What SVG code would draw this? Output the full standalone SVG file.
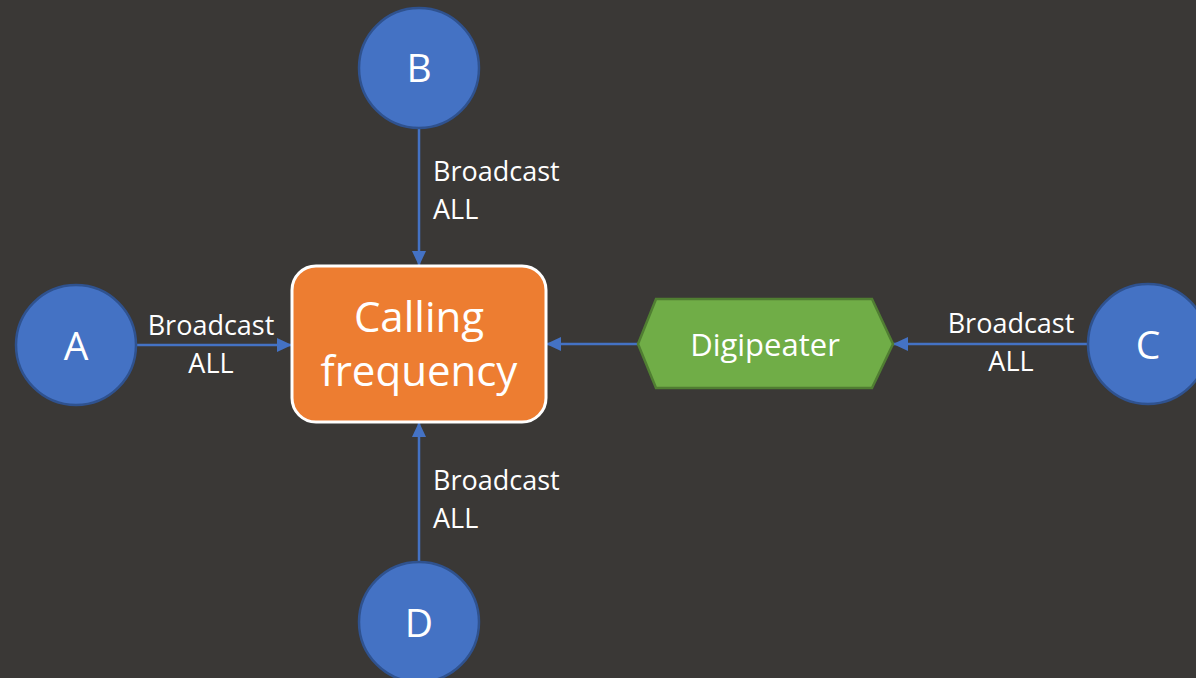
<svg xmlns="http://www.w3.org/2000/svg" width="1196" height="678" viewBox="0 0 1196 678">
<defs>
<style>
.bg{fill:#3a3836}
.node{fill:#4472c4;stroke:#2f528f;stroke-width:2.5}
.lbl{font-family:"Open Sans","Liberation Sans",sans-serif;fill:#ffffff}
.nl{font-size:39px;text-anchor:middle}
.el{font-size:27px}
.conn{stroke:#4472c4;stroke-width:2.5;fill:none;marker-end:url(#arr)}
</style>
<marker id="arr" markerUnits="userSpaceOnUse" markerWidth="16" markerHeight="16" viewBox="0 0 16 16" refX="15" refY="8" orient="auto">
<path d="M0,1 L15,8 L0,15 Z" fill="#4472c4"/>
</marker>
</defs>
<rect class="bg" x="0" y="0" width="1196" height="678"/>
<g id="connectors">
<line class="conn" x1="136" y1="345" x2="292" y2="345"/>
<line class="conn" x1="419" y1="128" x2="419" y2="266"/>
<line class="conn" x1="419" y1="562" x2="419" y2="422"/>
<line class="conn" x1="638" y1="344" x2="546" y2="344"/>
<line class="conn" x1="1088" y1="344" x2="893" y2="344"/>
<text class="lbl el" x="211" y="335" text-anchor="middle">Broadcast</text>
<text class="lbl el" x="211" y="373" text-anchor="middle">ALL</text>
<text class="lbl el" x="433" y="181">Broadcast</text>
<text class="lbl el" x="433" y="219">ALL</text>
<text class="lbl el" x="433" y="490">Broadcast</text>
<text class="lbl el" x="433" y="528">ALL</text>
<text class="lbl el" x="1011" y="333" text-anchor="middle">Broadcast</text>
<text class="lbl el" x="1011" y="371" text-anchor="middle">ALL</text>
</g>
<g id="node-calling">
<rect x="292" y="266" width="254" height="156" rx="24" fill="#ed7d31" stroke="#ffffff" stroke-width="3"/>
<text class="lbl" x="419" y="332" font-size="42" text-anchor="middle">Calling</text>
<text class="lbl" x="419" y="386" font-size="42" text-anchor="middle">frequency</text>
</g>
<g id="node-digipeater">
<polygon points="638,344 656,299 872,299 893,344 872,388 656,388" fill="#70ad47" stroke="#507e32" stroke-width="2.5"/>
<text class="lbl" x="765" y="356" font-size="31" text-anchor="middle">Digipeater</text>
</g>
<g id="node-A">
<circle class="node" cx="76" cy="345" r="60"/>
<text class="lbl nl" x="76" y="360">A</text>
</g>
<g id="node-B">
<circle class="node" cx="419" cy="68" r="60"/>
<text class="lbl nl" x="419" y="82">B</text>
</g>
<g id="node-C">
<circle class="node" cx="1148" cy="344" r="60"/>
<text class="lbl nl" x="1148" y="359">C</text>
</g>
<g id="node-D">
<circle class="node" cx="419" cy="622" r="60"/>
<text class="lbl nl" x="419" y="637">D</text>
</g>
</svg>
